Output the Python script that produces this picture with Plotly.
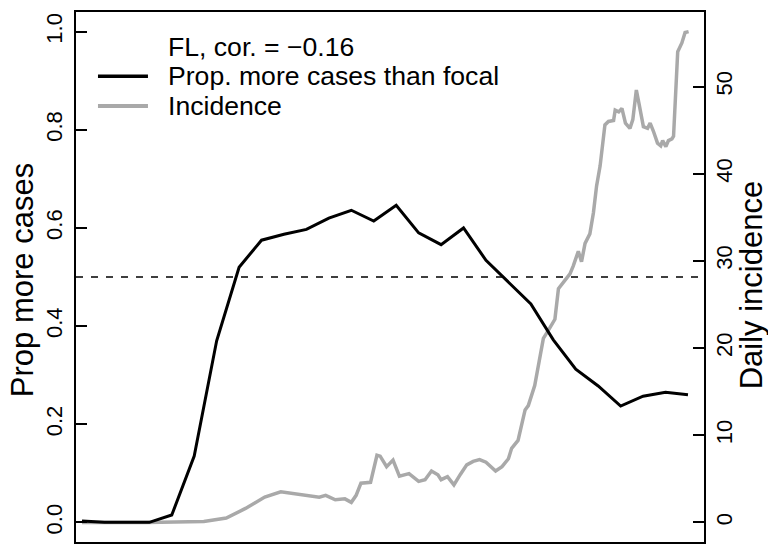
import plotly.graph_objects as go

# Weekly proportion of states with more cases than focal (FL)
prop_days = [0, 7, 14, 21, 28, 35, 42, 49, 56, 63, 70, 77, 84, 91, 98, 105, 112, 119,
             126, 133, 140, 147, 154, 161, 168, 175, 182, 189]
prop_vals = [0.003, 0.0, 0.0, 0.0, 0.015, 0.135, 0.37, 0.52, 0.575, 0.587, 0.597, 0.62,
             0.636, 0.614, 0.646, 0.59, 0.566, 0.60, 0.534, 0.49, 0.445, 0.372, 0.312,
             0.278, 0.237, 0.257, 0.265, 0.26]

# Daily incidence
inc_days = [0, 20, 38, 45, 51, 57, 62, 66, 70, 74, 76, 79, 82, 84, 85.5, 87, 90, 92, 93,
            95, 97, 99, 102, 105, 107, 109, 111, 112, 114, 116, 118, 120, 122, 124, 126,
            128, 129, 131, 133, 134, 136, 138.2, 139.2, 141.2, 142.8, 143.9, 145.4, 147.5,
            148.6, 150.2, 152.2, 153.2, 154.8, 155.8, 156.9, 158.4, 159.5, 160.5, 161.6,
            163.1, 164.2, 165.8, 166.3, 167.4, 168.4, 169.5, 170.9, 171.8, 172.9, 173.7,
            175.1, 176.4, 177.2, 178.2, 179.5, 180.5, 181.1, 182.1, 182.9, 184.0, 184.5,
            185.8, 187.1, 188.1, 189.2]
inc_vals = [0, 0, 0.1, 0.5, 1.6, 2.9, 3.5, 3.3, 3.0, 2.9, 3.1, 2.6, 2.7, 2.3, 3.1, 4.5,
            4.6, 7.7, 7.6, 6.4, 7.15, 5.3, 5.6, 4.7, 4.9, 5.9, 5.45, 4.9, 5.25, 4.3, 5.5,
            6.6, 7.0, 7.2, 6.9, 6.3, 5.9, 6.4, 7.3, 8.5, 9.4, 12.9, 13.4, 15.7, 18.8, 21.1,
            22.0, 23.3, 26.8, 27.5, 28.5, 29.4, 31.1, 29.9, 32.0, 33.1, 35.5, 38.6, 40.9,
            45.6, 46.0, 46.1, 47.3, 47.1, 47.5, 45.8, 45.2, 46.2, 49.6, 48.1, 45.4, 45.2,
            45.8, 44.9, 43.5, 43.2, 43.8, 43.1, 43.8, 44.0, 44.3, 54.0, 55.0, 56.2, 56.3]

left_ticks = [0.0, 0.2, 0.4, 0.6, 0.8, 1.0]
left_labels = ["0.0", "0.2", "0.4", "0.6", "0.8", "1.0"]
right_ticks = [0, 10, 20, 30, 40, 50]
legend_title = "FL, cor. = \u22120.16"
prop_name = "Prop. more cases than focal"
inc_name = "Incidence"
left_title = "Prop more cases"
right_title = "Daily incidence"
threshold = 0.5

BLACK = "black"
GREY = "#A9A9A9"
FONT = "Liberation Sans, Arial, Helvetica, sans-serif"

fig = go.Figure()
fig.add_trace(go.Scatter(x=inc_days, y=inc_vals, mode="lines", name=inc_name,
                         line=dict(color=GREY, width=3.5), yaxis="y"))
fig.add_trace(go.Scatter(x=prop_days, y=prop_vals, mode="lines", name=prop_name,
                         line=dict(color=BLACK, width=3), yaxis="y2"))

fig.add_shape(type="line", xref="paper", x0=0, x1=1, yref="y2", y0=threshold, y1=threshold,
              line=dict(color="black", width=1.5, dash="7px,8px"))

# legend (drawn manually, R-style: keys + text)
leg_x_text = 0.1433
leg_rows = [0.9345, 0.8790, 0.8225]
fig.add_annotation(x=leg_x_text, y=leg_rows[0], xref="paper", yref="paper", text=legend_title,
                   showarrow=False, xanchor="left", yanchor="middle",
                   font=dict(size=26.6, family=FONT, color="black"))
for row, name, col, w in [(leg_rows[1], prop_name, BLACK, 3.5), (leg_rows[2], inc_name, GREY, 4)]:
    fig.add_annotation(x=leg_x_text, y=row, xref="paper", yref="paper", text=name,
                       showarrow=False, xanchor="left", yanchor="middle",
                       font=dict(size=26.6, family=FONT, color="black"))
    fig.add_shape(type="line", xref="paper", yref="paper", x0=0.035, x1=0.1146,
                  y0=row, y1=row, line=dict(color=col, width=w))

# axis titles
fig.add_annotation(x=-0.086, y=0.494, xref="paper", yref="paper", text=left_title,
                   textangle=-90, showarrow=False, xanchor="center", yanchor="middle",
                   font=dict(size=31, family=FONT, color="black"))
fig.add_annotation(x=1.077, y=0.485, xref="paper", yref="paper", text=right_title,
                   textangle=-90, showarrow=False, xanchor="center", yanchor="middle",
                   font=dict(size=31, family=FONT, color="black"))

fig.update_layout(
    width=768, height=544,
    margin=dict(l=76, r=64, t=12, b=2, autoexpand=False),
    paper_bgcolor="white", plot_bgcolor="white",
    font=dict(family=FONT, color="black"),
    showlegend=False,
    xaxis=dict(range=[-1.87, 194.0], showticklabels=False, ticks="", showgrid=False,
               zeroline=False, showline=True, linecolor="black", linewidth=1.5,
               mirror=True, automargin=False),
    yaxis=dict(range=[-2.25, 58.55], side="right", tickvals=right_ticks,
               ticks="inside", ticklen=11, tickwidth=2, tickcolor="black",
               tickangle=-90, tickfont=dict(size=22, family=FONT),
               showgrid=False, zeroline=False, showline=True, linecolor="black",
               linewidth=1.5, automargin=False),
    yaxis2=dict(range=[-0.04, 1.04], side="left", overlaying="y", tickvals=left_ticks,
                ticktext=left_labels, ticks="inside", ticklen=11, tickwidth=2,
                tickcolor="black", tickangle=-90, tickfont=dict(size=22, family=FONT),
                showgrid=False, zeroline=False, showline=True, linecolor="black",
                linewidth=1.5, automargin=False, ticklabelstandoff=3),
)

fig.write_html("out.html", config={"displayModeBar": False},
               post_script="document.body.style.margin='0px';document.body.style.overflow='hidden';")
